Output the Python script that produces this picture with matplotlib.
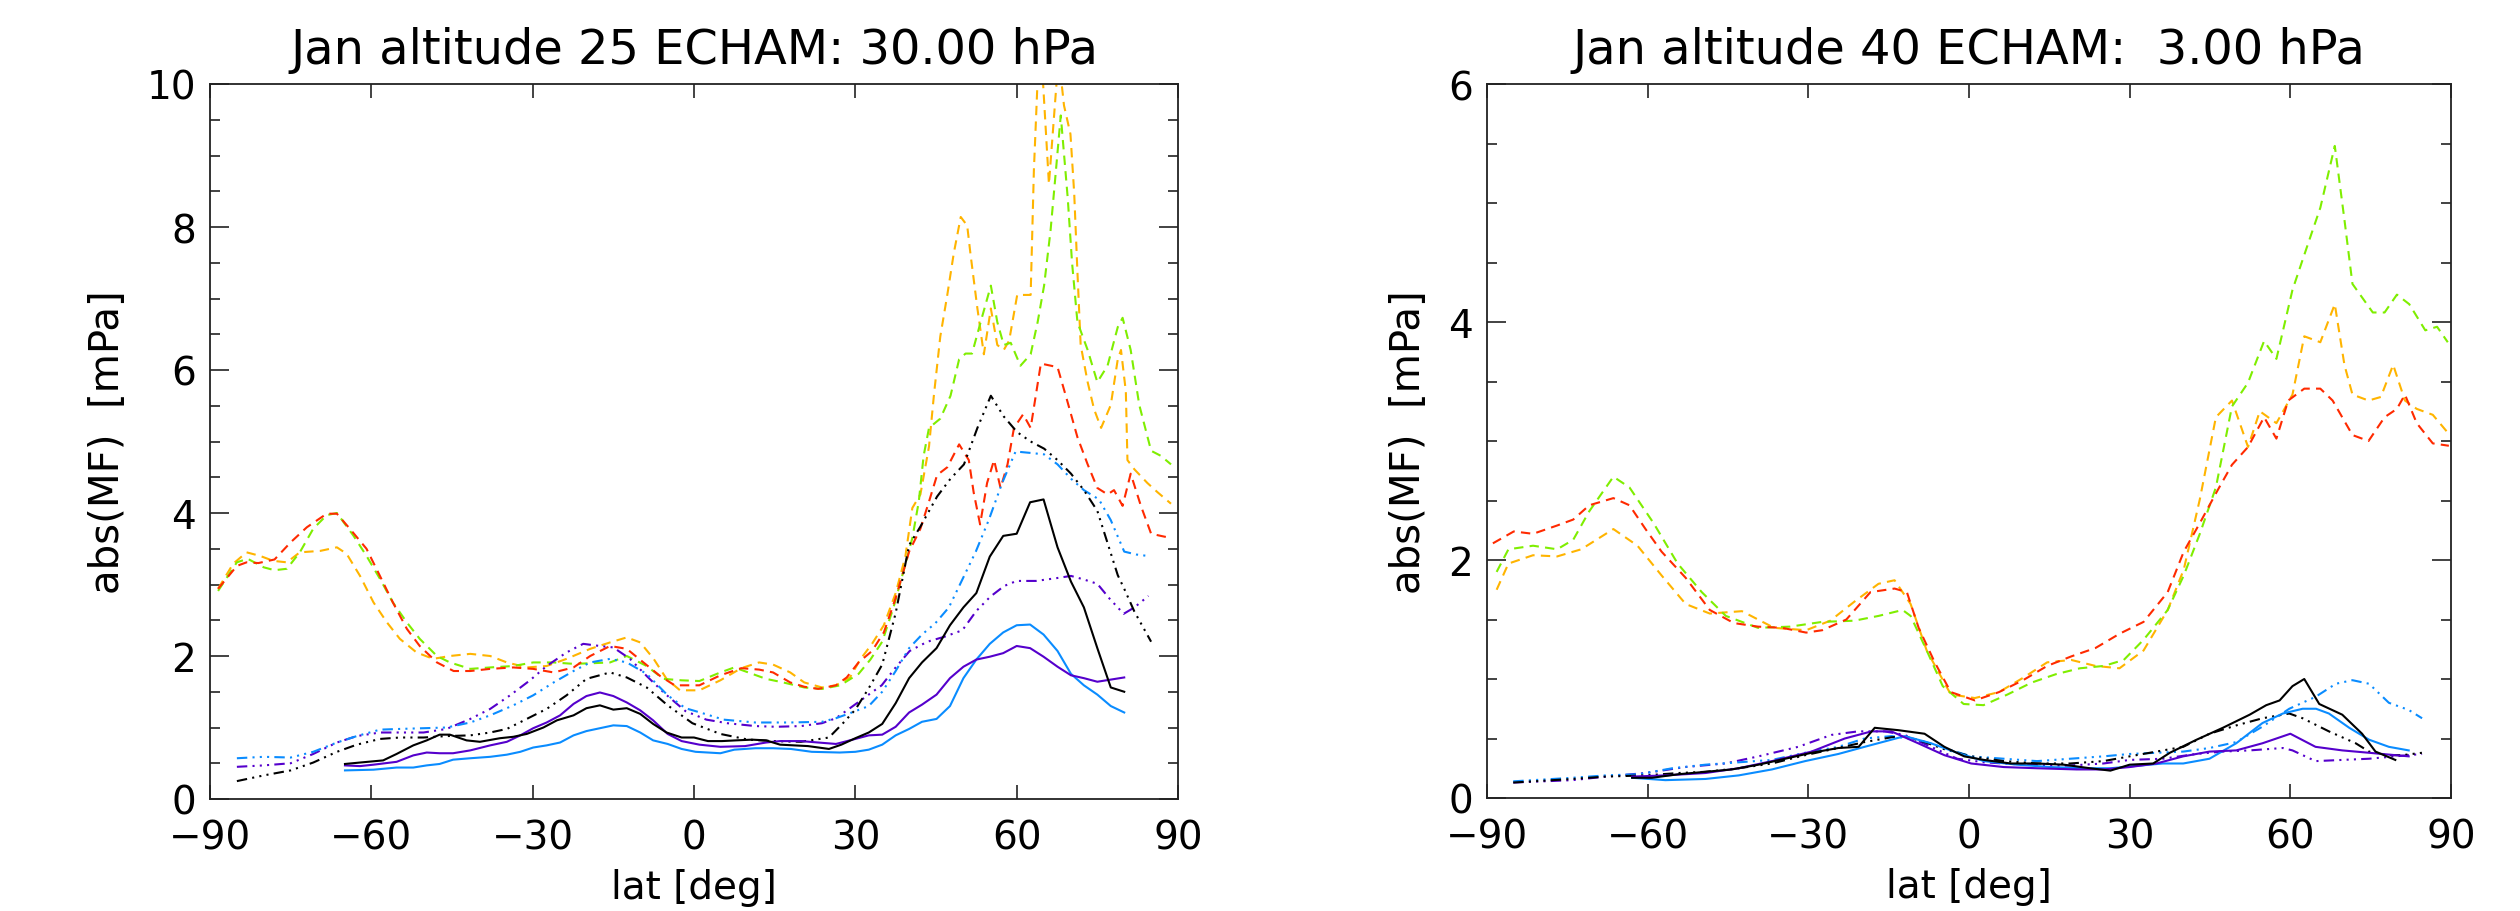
import matplotlib
matplotlib.use('Agg')
import matplotlib.pyplot as plt
from matplotlib.ticker import FixedLocator, MultipleLocator

# ---------------- Jan, altitude 25 (30 hPa) ----------------
lat_red_25 = [-88.5, -85, -83.2, -81, -78, -75, -72, -68.3, -66.4, -64, -60.9, -58.4, -56, -53.4, -51,
              -47.8, -44.7, -41.6, -37.9, -33.6, -29.9, -26.1, -22.4, -19.3, -15.6, -12.5, -9.4, -6.3,
              -3.6, 1, 4.9, 8.8, 12.1, 14.7, 17.9, 20.5, 23.1, 26.4, 28.4, 30.6, 33.1, 35.3, 37.5, 40,
              42.1, 43.7, 45.2, 47.1, 49.3, 51.1, 52, 53.2, 54.5, 55.8, 57, 58.3, 59.5, 61.2, 62.6,
              64.5, 67.6, 69.4, 71.3, 73.2, 75, 76.9, 78.1, 79.7, 81.2, 83.1, 85, 86.8, 88.7]
red_25 = [2.94, 3.26, 3.31, 3.30, 3.35, 3.59, 3.80, 3.99, 3.99, 3.78, 3.50, 3.12, 2.75, 2.38, 2.14,
          1.91, 1.79, 1.79, 1.82, 1.84, 1.82, 1.77, 1.84, 2.00, 2.14, 2.10, 1.91, 1.72,
          1.59, 1.59, 1.73, 1.83, 1.81, 1.77, 1.63, 1.57, 1.54, 1.59, 1.70, 1.91, 2.07, 2.33, 2.81, 3.46,
          3.78, 4.16, 4.53, 4.64, 4.96, 4.74, 4.29, 3.84, 4.42, 4.74, 4.35, 4.68, 5.19, 5.38, 5.19,
          6.09, 6.04, 5.57, 5.06, 4.68, 4.35, 4.26, 4.32, 4.10, 4.55, 4.10, 3.71, 3.68, 3.65]

lat_green_25 = [-88.5, -85, -83, -80, -78, -75.7, -73.3, -70.8, -68.3, -66.4, -63.3, -60.9, -58.4, -56,
                -53.4, -51, -47.8, -45.4, -41.6, -37.9, -33.6, -29.9, -26.1, -22.4, -18.7, -15.6, -12.5,
                -8.8, -5.7, -2.3, 1, 4.9, 7.5, 10.1, 13.4, 16.6, 20.5, 23.8, 27.2, 30.6, 32.8, 35, 37.1,
                39, 40.6, 41.8, 42.7, 43.7, 45.8, 47.7, 49.3, 50.5, 51.7, 53.3, 55.2, 56.4, 57.6, 58.9,
                60.7, 62.6, 63.9, 65.1, 66.3, 67.3, 68.2, 69.5, 70.3, 71.3, 73.2, 75, 76.9, 78.8, 79.7,
                81.2, 82.8, 85, 86.8, 88.7]
green_25 = [2.91, 3.31, 3.36, 3.24, 3.20, 3.22, 3.45, 3.78, 3.97, 4.00, 3.68, 3.40, 3.08, 2.75,
            2.47, 2.24, 2.00, 1.91, 1.82, 1.84, 1.86, 1.91, 1.91, 1.89, 1.90, 1.91, 2.00,
            1.86, 1.68, 1.66, 1.65, 1.77, 1.84, 1.77, 1.68, 1.63, 1.56, 1.54, 1.59, 1.75, 1.95, 2.20, 2.68,
            3.20, 3.65, 4.16, 4.80, 5.19, 5.32, 5.64, 6.15, 6.23, 6.23, 6.67, 7.18, 6.67, 6.35, 6.38,
            6.06, 6.22, 6.67, 7.18, 7.95, 8.79, 9.56, 8.40, 7.50, 6.67, 6.28, 5.83, 6.06, 6.60, 6.73,
            6.28, 5.51, 4.87, 4.80, 4.68]

lat_orange_25 = [-88.5, -85.7, -83.2, -80.7, -78.2, -75.7, -73.3, -69.5, -66.4, -64.6, -62.1, -59.6,
                 -57.1, -54.7, -51.6, -48.5, -45.4, -41.6, -37.9, -34.8, -31.1, -27.4, -23.7, -19.3,
                 -15.6, -12.5, -10, -7.5, -5.1, -2.6, 1, 4.9, 8.8, 12.1, 14.7, 17.9, 20.5, 23.8, 26.4,
                 29, 30.9, 33.1, 35.3, 37.5, 39.3, 40.6, 42.1, 43.7, 44.6, 45.8, 47.1, 48.3, 49.6, 50.8,
                 51.4, 52.7, 53.9, 55.2, 56.4, 57.6, 58.6, 60.1, 62.6, 63.2, 64.3, 66.0, 67.8, 68.8, 70,
                 70.7, 71.3, 71.9, 73.2, 74.4, 75.7, 77.5, 78.8, 79.4, 80.3, 80.6, 81.9, 84.3, 86.2, 88.7]
orange_25 = [2.94, 3.29, 3.45, 3.40, 3.33, 3.31, 3.45, 3.47, 3.52, 3.43, 3.12, 2.75,
             2.47, 2.24, 2.05, 1.96, 2.00, 2.03, 2.00, 1.91, 1.84, 1.86, 1.96, 2.10,
             2.19, 2.26, 2.19, 1.96, 1.68, 1.52, 1.52, 1.66, 1.83, 1.91, 1.88, 1.77, 1.63, 1.56, 1.59,
             1.70, 1.95, 2.17, 2.43, 2.88, 3.39, 4.07, 4.26, 4.93, 5.64, 6.47, 7.05, 7.63, 8.14, 8.02,
             7.63, 6.86, 6.22, 6.86, 6.35, 6.28, 6.41, 7.05, 7.05, 8.79, 10.8, 8.6, 10.4, 9.7, 9.3,
             8.47, 7.37, 6.35, 5.83, 5.45, 5.19, 5.51, 6.15, 6.28, 5.70, 4.74, 4.61, 4.42, 4.29, 4.13]

lat_purple_dd_25 = [-85, -80, -75, -70.8, -66.4, -62.7, -58.4, -54.7, -50.3, -46, -41.6, -37.9, -34.2,
                    -30.5, -27.4, -23.7, -20.6, -17.5, -15, -11.9, -8.8, -5.5, -1.6, 2.3, 6.2, 11.4,
                    15.3, 19.9, 23.8, 26.4, 29, 32.3, 34.9, 37.5, 40.1, 43.4, 46.6, 49.9, 52.5, 55.1,
                    57.7, 60, 63.6, 67.5, 70.1, 72.5, 75, 77.3, 79.9, 81.9, 84.5]
purple_dd_25 = [0.45, 0.47, 0.50, 0.63, 0.79, 0.88, 0.93, 0.93, 0.93, 0.98, 1.12, 1.26, 1.45,
                1.66, 1.86, 2.05, 2.17, 2.14, 2.12, 1.96, 1.72, 1.48, 1.23, 1.11, 1.06, 1.02,
                1.01, 1.02, 1.06, 1.13, 1.27, 1.45, 1.59, 1.84, 2.07, 2.20, 2.27, 2.36, 2.63, 2.83,
                2.98, 3.05, 3.05, 3.09, 3.12, 3.07, 3.01, 2.80, 2.59, 2.68, 2.84]

lat_blue_dd_25 = [-85, -80, -75, -70.8, -66.4, -62.7, -58.4, -54.7, -50.3, -46, -41.6, -37.9, -33.6,
                  -29.9, -26.1, -22.4, -19.3, -15.6, -12.5, -8.8, -4.9, -1.6, 1.6, 5.5, 11.4, 17.9,
                  23.8, 26.4, 29, 32.5, 35, 37.5, 40, 42.4, 44.9, 47.4, 49.9, 52.4, 54.8, 57.3, 59.8,
                  62.6, 65.1, 67.6, 70.1, 72.5, 75.3, 77.5, 80, 82.2, 84.3]
blue_dd_25 = [0.57, 0.59, 0.58, 0.66, 0.79, 0.88, 0.97, 0.98, 0.99, 1.00, 1.07, 1.17, 1.31,
              1.45, 1.63, 1.79, 1.91, 1.96, 1.91, 1.75, 1.45, 1.27, 1.20, 1.11, 1.07, 1.07,
              1.08, 1.13, 1.20, 1.30, 1.50, 1.79, 2.11, 2.30, 2.46, 2.68, 3.07, 3.46, 3.90, 4.42, 4.86,
              4.84, 4.82, 4.68, 4.48, 4.32, 4.19, 3.90, 3.46, 3.42, 3.40]

lat_black_dd_25 = [-85, -80, -75, -70.8, -66.4, -62.7, -58.4, -54.7, -50.3, -46, -41.6, -37.9, -34.8,
                   -31.1, -27.4, -23.7, -20, -15.6, -12.5, -8.8, -4.9, -0.3, 4.9, 10.1, 14.7, 19.9,
                   25.1, 27.7, 30, 32.5, 35, 37.5, 40, 42.1, 45.2, 47.7, 50.2, 52.7, 55.2, 57.6, 60.1,
                   62.6, 65.1, 67.6, 70.1, 72.5, 75, 76.9, 78.8, 80, 81.9, 85]
black_dd_25 = [0.25, 0.33, 0.40, 0.51, 0.66, 0.76, 0.84, 0.86, 0.86, 0.88, 0.89, 0.93, 0.98,
               1.12, 1.26, 1.45, 1.68, 1.77, 1.70, 1.56, 1.31, 1.06, 0.91, 0.83, 0.81, 0.80,
               0.86, 1.06, 1.25, 1.55, 1.88, 2.60, 3.55, 3.81, 4.23, 4.48, 4.68, 5.19, 5.64, 5.35, 5.13,
               5.00, 4.90, 4.74, 4.55, 4.32, 4.03, 3.58, 3.13, 2.94, 2.62, 2.20]

lat_black_s_25 = [-64.9, -62.1, -57.8, -55.3, -52.2, -49.7, -47.3, -45.4, -42.3, -39.8, -36.1, -33.6,
                  -31.1, -28, -25.5, -22.4, -20, -17.5, -15, -12.5, -10, -7.6, -5.1, -2.3, 0, 2.6,
                  5.2, 7.8, 10.8, 13.4, 16, 18.6, 21.2, 25.1, 27.4, 30, 32.5, 35, 37.5, 40, 42.4, 45.1,
                  47.6, 50.1, 52.5, 55, 57.5, 60, 62.5, 65, 67.6, 70.1, 72.5, 75, 77.5, 80]
black_s_25 = [0.49, 0.51, 0.54, 0.63, 0.75, 0.82, 0.90, 0.90, 0.82, 0.80, 0.85, 0.87,
              0.91, 1.00, 1.10, 1.17, 1.27, 1.31, 1.25, 1.27, 1.19, 1.05, 0.93, 0.86, 0.86, 0.81,
              0.81, 0.82, 0.83, 0.82, 0.76, 0.75, 0.74, 0.70, 0.76, 0.85, 0.93, 1.05, 1.34, 1.69, 1.91, 2.11,
              2.43, 2.68, 2.88, 3.39, 3.68, 3.71, 4.15, 4.19, 3.52, 3.04, 2.68, 2.11, 1.56, 1.50]

lat_purple_s_25 = [-64.9, -62.1, -59.6, -55.3, -52.2, -49.7, -47.3, -44.8, -41.6, -37.9, -34.8, -32.3,
                   -29.9, -27.4, -24.9, -22.4, -20, -17.5, -15, -12.5, -10, -7.6, -4.9, -2.3, 1, 4.9,
                   9.5, 13.4, 16, 19.9, 23.1, 26.4, 30, 32.5, 35, 37.5, 40, 42.4, 45.1, 47.6, 50.1, 52.5,
                   55, 57.5, 60, 62.5, 65, 67.6, 70.1, 72.5, 75, 77.5, 80]
purple_s_25 = [0.47, 0.46, 0.48, 0.52, 0.61, 0.65, 0.64, 0.64, 0.68, 0.75, 0.80, 0.89,
               0.99, 1.07, 1.17, 1.33, 1.44, 1.49, 1.44, 1.35, 1.24, 1.10, 0.91, 0.81, 0.76, 0.73,
               0.74, 0.79, 0.81, 0.81, 0.79, 0.77, 0.84, 0.89, 0.90, 1.01, 1.21, 1.32, 1.46, 1.69, 1.85, 1.95,
               1.99, 2.04, 2.14, 2.11, 1.99, 1.85, 1.73, 1.69, 1.64, 1.67, 1.70]

lat_blue_s_25 = [-64.9, -59.6, -55.3, -52.2, -49.7, -47.3, -44.8, -41.6, -37.9, -34.8, -32.3, -29.9,
                 -27.4, -24.9, -22.4, -20, -17.5, -15, -12.5, -10, -7.6, -4.9, -2.3, 0.3, 4.9, 7.5,
                 11.4, 14.7, 18, 21.9, 27.1, 30, 32.5, 35, 37.5, 40, 42.4, 45.1, 47.6, 50.1, 52.5, 55,
                 57.5, 60, 62.5, 65, 67.6, 70.1, 72.5, 75, 77.5, 80]
blue_s_25 = [0.40, 0.41, 0.44, 0.44, 0.47, 0.49, 0.55, 0.57, 0.59, 0.62, 0.66, 0.72,
             0.75, 0.79, 0.89, 0.95, 0.99, 1.03, 1.02, 0.93, 0.82, 0.77, 0.70, 0.66, 0.64, 0.69,
             0.71, 0.71, 0.70, 0.66, 0.65, 0.66, 0.69, 0.76, 0.89, 0.98, 1.08, 1.12, 1.30, 1.69, 1.95, 2.17,
             2.33, 2.43, 2.44, 2.30, 2.07, 1.75, 1.59, 1.46, 1.30, 1.21]

# ---------------- Jan, altitude 40 (3 hPa) ----------------
lat_red_40 = [-88.9, -85, -81.4, -76.9, -73.9, -70.9, -66.4, -63.4, -60.4, -57.4, -52.9, -48.4, -43.9,
              -39.4, -34.9, -30.4, -27.4, -22.9, -18.4, -13.9, -11.6, -9.4, -6.4, -3.4, 1.1, 5.6, 10.1,
              14.6, 19.1, 23.6, 28.1, 32.6, 37.1, 40.1, 43.1, 46.1, 49.1, 52.1, 55.1, 57.4, 59.6, 62.6,
              65.6, 67.9, 71.6, 74.6, 77.6, 79.9, 81.4, 83.6, 86.6, 89.6]
red_40 = [2.14, 2.24, 2.22, 2.29, 2.34, 2.46, 2.52, 2.46, 2.26, 2.07, 1.85, 1.58, 1.47,
          1.44, 1.43, 1.39, 1.41, 1.50, 1.73, 1.76, 1.73, 1.43, 1.14, 0.89, 0.82, 0.89, 0.99,
          1.11, 1.19, 1.26, 1.38, 1.48, 1.73, 2.07, 2.31, 2.56, 2.80, 2.95, 3.20, 3.02, 3.34, 3.44,
          3.44, 3.34, 3.05, 3.00, 3.20, 3.27, 3.39, 3.15, 2.98, 2.96]

lat_green_40 = [-88.2, -86, -81.4, -76.9, -73.9, -70.9, -66.4, -63.4, -58.9, -54.4, -49.9, -45.4, -39.4,
                -33.4, -27.4, -21.4, -16.9, -12.4, -10.9, -7.9, -4.9, -1, 2.7, 7.2, 11.7, 16.2, 20.7,
                25.2, 28.9, 32.6, 37.1, 40.1, 43.1, 46.1, 49.1, 52.1, 55.1, 57.4, 60.4, 63.4, 65.6,
                68.3, 70.1, 71.6, 75.4, 77.6, 79.9, 82.2, 85.2, 87.4, 89.4]
green_40 = [1.90, 2.09, 2.12, 2.09, 2.17, 2.41, 2.70, 2.61, 2.31, 1.97, 1.73, 1.53, 1.43,
            1.44, 1.48, 1.49, 1.53, 1.58, 1.53, 1.24, 0.94, 0.79, 0.78, 0.87, 0.97, 1.04, 1.09,
            1.11, 1.16, 1.33, 1.58, 1.87, 2.22, 2.61, 3.29, 3.49, 3.84, 3.69, 4.27, 4.67, 4.96,
            5.48, 4.86, 4.32, 4.08, 4.08, 4.23, 4.15, 3.93, 3.96, 3.83]

lat_orange_40 = [-88.2, -86, -81.4, -76.9, -72.4, -66.4, -61.9, -57.4, -52.9, -48.4, -42.4, -36.4, -30.4,
                 -25.9, -21.4, -16.9, -13.9, -10.9, -7.9, -3.4, 1.1, 5.6, 10.1, 14.6, 19.1, 23.6, 28.1,
                 32.6, 37.1, 40.1, 43.1, 46.1, 49.1, 52.1, 54.3, 57.4, 60.4, 62.6, 65.6, 68.3, 70.1,
                 71.6, 74.6, 76.9, 79.2, 81.4, 83.6, 86.6, 89.4]
orange_40 = [1.75, 1.97, 2.04, 2.03, 2.09, 2.26, 2.12, 1.87, 1.63, 1.55, 1.57, 1.43, 1.41,
             1.49, 1.65, 1.80, 1.83, 1.63, 1.24, 0.87, 0.84, 0.89, 1.01, 1.14, 1.16, 1.11, 1.09,
             1.24, 1.58, 1.92, 2.51, 3.20, 3.34, 2.95, 3.25, 3.15, 3.39, 3.88, 3.83, 4.15, 3.64,
             3.39, 3.34, 3.37, 3.64, 3.34, 3.27, 3.22, 3.07]

lat_purple_dd_40 = [-85.1, -74, -67.8, -60.4, -53, -45.5, -39.3, -31.9, -25.7, -20.7, -15.8, -12, -7.1,
                    -2.2, 2.8, 10.2, 17.7, 25.1, 30, 36.2, 42.4, 47.4, 52.4, 58.6, 60.4, 64.7, 69.7,
                    74.7, 79.6, 84.6]
purple_dd_40 = [0.13, 0.15, 0.18, 0.21, 0.26, 0.29, 0.35, 0.43, 0.53, 0.56, 0.56, 0.53, 0.43,
                0.33, 0.30, 0.28, 0.27, 0.29, 0.32, 0.33, 0.37, 0.39, 0.40, 0.42, 0.40, 0.31, 0.32,
                0.33, 0.35, 0.37]

lat_blue_dd_40 = [-85.1, -74, -67.8, -61.6, -55.4, -49.2, -43, -36.8, -30.6, -24.4, -19.5, -14.5, -9.5,
                  -4.6, 0.4, 6.5, 12.7, 18.9, 25.1, 30, 35, 40, 44.9, 49.9, 54.8, 59.8, 64.7, 68.5,
                  71.6, 74.7, 78.4, 82.1, 84.6]
blue_dd_40 = [0.14, 0.17, 0.19, 0.20, 0.25, 0.28, 0.30, 0.32, 0.38, 0.43, 0.50, 0.52, 0.49,
              0.42, 0.35, 0.33, 0.31, 0.33, 0.35, 0.37, 0.38, 0.39, 0.42, 0.47, 0.60, 0.75, 0.85, 0.96,
              0.99, 0.96, 0.80, 0.74, 0.67]

lat_black_dd_40 = [-85.1, -74, -67.8, -60.4, -54.2, -49.2, -43, -36.8, -30.6, -24.4, -19.5, -14.5, -12,
                   -8.3, -4.6, 0.4, 6.5, 12.7, 18.9, 25.1, 30, 35, 40, 44.9, 49.9, 54.8, 59.8, 62.3,
                   67.2, 72.2, 74.7, 78.4, 80.9, 84.6]
black_dd_40 = [0.13, 0.16, 0.18, 0.19, 0.21, 0.22, 0.25, 0.29, 0.36, 0.42, 0.47, 0.51, 0.52,
               0.47, 0.41, 0.35, 0.31, 0.29, 0.29, 0.31, 0.35, 0.39, 0.43, 0.54, 0.61, 0.67, 0.71, 0.67,
               0.56, 0.46, 0.39, 0.36, 0.36, 0.38]

lat_black_s_40 = [-62.9, -59.2, -54.2, -49.2, -44.3, -39.3, -34.3, -29.4, -24.4, -20.6, -17.6, -13.2,
                  -8.3, -4.6, -0.9, 2.8, 7.8, 12.7, 17.7, 22.6, 26.4, 30, 34.4, 37.5, 42.5, 47.4, 52.4,
                  55.5, 58, 60.4, 62.6, 65.4, 69.7, 73.4, 75.9, 79.6]
black_s_40 = [0.17, 0.17, 0.20, 0.22, 0.24, 0.28, 0.33, 0.38, 0.42, 0.43, 0.59, 0.57,
              0.54, 0.43, 0.35, 0.32, 0.29, 0.29, 0.28, 0.25, 0.23, 0.28, 0.29, 0.38, 0.49, 0.59, 0.70,
              0.78, 0.82, 0.94, 1.00, 0.79, 0.70, 0.54, 0.39, 0.32]

lat_purple_s_40 = [-62.9, -56.7, -49.2, -43, -36.8, -29.4, -23.2, -18.2, -14.5, -9.5, -4.6, 0.4, 6.5,
                   12.7, 20.1, 25.1, 30, 35, 40, 44.9, 49.9, 54.8, 60, 64.7, 69.7, 74.7, 79.6, 82.1]
purple_s_40 = [0.18, 0.19, 0.21, 0.25, 0.31, 0.39, 0.50, 0.56, 0.56, 0.46, 0.36, 0.29, 0.26,
               0.25, 0.24, 0.24, 0.26, 0.29, 0.35, 0.39, 0.40, 0.46, 0.54, 0.43, 0.40, 0.38, 0.36, 0.35]

lat_blue_s_40 = [-62.9, -56.7, -49.2, -43, -36.8, -30.6, -24.4, -19.5, -14.5, -12, -7.1, -2.2, 2.8, 9,
                 15.2, 21.4, 26.4, 31.3, 36.2, 40, 44.9, 49.9, 54.8, 58.6, 62.3, 64.8, 67.2, 71, 74.7,
                 78.4, 82.1]
blue_s_40 = [0.17, 0.15, 0.16, 0.19, 0.24, 0.31, 0.37, 0.43, 0.49, 0.52, 0.46, 0.38, 0.31, 0.28,
             0.26, 0.25, 0.25, 0.27, 0.29, 0.29, 0.33, 0.46, 0.63, 0.71, 0.75, 0.75, 0.71, 0.59, 0.49,
             0.43, 0.40]

xticks = [-90, -60, -30, 0, 30, 60, 90]
yticks_25 = [0, 2, 4, 6, 8, 10]
yticks_40 = [0, 2, 4, 6]

# colours / line styles (IDL-like)
c_orange = '#FFB400'
c_green = '#7FEE00'
c_red = '#FF2A00'
c_blue = '#0A8CFF'
c_purple = '#5500CC'
c_black = 'black'
dash = (0, (4.5, 3))
dash3dot = (0, (5, 2.5, 1, 2.5, 1, 2.5, 1, 2.5))

fig = plt.figure(figsize=(25.2, 9.12), dpi=100, facecolor='white')
ax1 = fig.add_axes([210/2520, 112/912, 968/2520, 715/912])
ax2 = fig.add_axes([1487/2520, 113/912, 964/2520, 714/912])


def panel(ax, series, ymax, yticks, title, ylab_x):
    for lat, val, col, ls in series:
        ax.plot(lat, val, color=col, linestyle=ls, linewidth=1.5)
    ax.set_xlim(-90, 90)
    ax.set_ylim(0, ymax)
    ax.xaxis.set_major_locator(FixedLocator(xticks))
    ax.set_xticklabels([str(t).replace('-', '\u2212') for t in xticks])
    ax.yaxis.set_major_locator(FixedLocator(yticks))
    ax.set_yticklabels([str(t) for t in yticks])
    ax.yaxis.set_minor_locator(MultipleLocator(0.5))
    ax.tick_params(which='both', direction='in', top=True, right=True, color='#222222')
    ax.tick_params(axis='y', which='major', length=14, width=1.2, pad=10, labelsize=28)
    ax.tick_params(axis='y', which='minor', length=7, width=1.2)
    ax.tick_params(axis='x', which='major', length=10, width=1.2, pad=14, labelsize=28)
    for sp in ax.spines.values():
        sp.set_linewidth(1.3)
        sp.set_color('#222222')
    ax.set_title(title, fontsize=34.5, pad=15)
    # IDL draws the x label right at the page edge; keep it just inside
    ax.set_xlabel('lat [deg]', fontsize=28, va='baseline')
    ax.xaxis.set_label_coords(0.5, -0.138)
    ax.set_ylabel('abs(MF)  [mPa]', fontsize=29, va='center')
    ax.yaxis.set_label_coords(ylab_x, 0.5)


panel(ax1, [
    (lat_orange_25, orange_25, c_orange, dash),
    (lat_green_25, green_25, c_green, dash),
    (lat_red_25, red_25, c_red, dash),
    (lat_purple_dd_25, purple_dd_25, c_purple, dash3dot),
    (lat_blue_dd_25, blue_dd_25, c_blue, dash3dot),
    (lat_black_dd_25, black_dd_25, c_black, dash3dot),
    (lat_blue_s_25, blue_s_25, c_blue, '-'),
    (lat_purple_s_25, purple_s_25, c_purple, '-'),
    (lat_black_s_25, black_s_25, c_black, '-'),
], 10, yticks_25, 'Jan altitude 25 ECHAM: 30.00 hPa', -0.1054)

panel(ax2, [
    (lat_orange_40, orange_40, c_orange, dash),
    (lat_green_40, green_40, c_green, dash),
    (lat_red_40, red_40, c_red, dash),
    (lat_purple_dd_40, purple_dd_40, c_purple, dash3dot),
    (lat_blue_dd_40, blue_dd_40, c_blue, dash3dot),
    (lat_black_dd_40, black_dd_40, c_black, dash3dot),
    (lat_blue_s_40, blue_s_40, c_blue, '-'),
    (lat_purple_s_40, purple_s_40, c_purple, '-'),
    (lat_black_s_40, black_s_40, c_black, '-'),
], 6, yticks_40, 'Jan altitude 40 ECHAM:  3.00 hPa', -0.0809)

fig.savefig('out.png', dpi=100, facecolor='white')
